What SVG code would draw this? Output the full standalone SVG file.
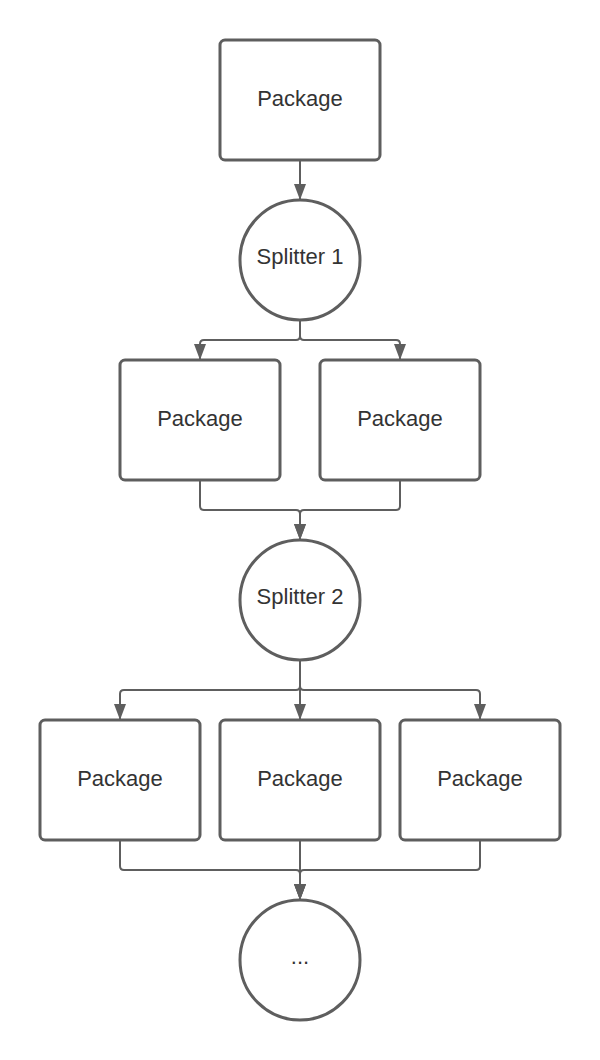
<svg xmlns="http://www.w3.org/2000/svg" width="600" height="1060" viewBox="0 0 600 1060">
<style>
.n{fill:#fff;stroke:#5e5e5e;stroke-width:3}
.t{font-family:"Liberation Sans",Arial,sans-serif;font-size:22px;fill:#333;text-anchor:middle;dominant-baseline:central}
.c{fill:none;stroke:#5e5e5e;stroke-width:2}
</style>
<defs>
<marker id="b" markerUnits="userSpaceOnUse" viewBox="0 0 16 12" refX="16" refY="6" markerWidth="16" markerHeight="12" orient="auto"><path d="M0 0 L16 6 L0 12 Z" fill="#5e5e5e"/></marker>
</defs>
<g id="connectors">
<path class="c" d="M300 160 V200" marker-end="url(#b)"/>
<path class="c" d="M300 320 V336 Q300 340 296 340 H204 Q200 340 200 344 V360" marker-end="url(#b)"/>
<path class="c" d="M300 320 V336 Q300 340 304 340 H396 Q400 340 400 344 V360" marker-end="url(#b)"/>
<path class="c" d="M200 480 V506 Q200 510 204 510 H296 Q300 510 300 514 V540" marker-end="url(#b)"/>
<path class="c" d="M400 480 V506 Q400 510 396 510 H304 Q300 510 300 514 V540" marker-end="url(#b)"/>
<path class="c" d="M300 660 V686 Q300 690 296 690 H124 Q120 690 120 694 V720" marker-end="url(#b)"/>
<path class="c" d="M300 660 V720" marker-end="url(#b)"/>
<path class="c" d="M300 660 V686 Q300 690 304 690 H476 Q480 690 480 694 V720" marker-end="url(#b)"/>
<path class="c" d="M120 840 V866 Q120 870 124 870 H296 Q300 870 300 874 V900" marker-end="url(#b)"/>
<path class="c" d="M300 840 V900" marker-end="url(#b)"/>
<path class="c" d="M480 840 V866 Q480 870 476 870 H304 Q300 870 300 874 V900" marker-end="url(#b)"/>
</g>
<g id="package-top"><rect class="n" x="220" y="40" width="160" height="120" rx="5"/><text class="t" x="300" y="98">Package</text></g>
<g id="splitter-1"><circle class="n" cx="300" cy="260" r="60"/><text class="t" x="300" y="256">Splitter 1</text></g>
<g id="package-2a"><rect class="n" x="120" y="360" width="160" height="120" rx="5"/><text class="t" x="200" y="418">Package</text></g>
<g id="package-2b"><rect class="n" x="320" y="360" width="160" height="120" rx="5"/><text class="t" x="400" y="418">Package</text></g>
<g id="splitter-2"><circle class="n" cx="300" cy="600" r="60"/><text class="t" x="300" y="596">Splitter 2</text></g>
<g id="package-3a"><rect class="n" x="40" y="720" width="160" height="120" rx="5"/><text class="t" x="120" y="778">Package</text></g>
<g id="package-3b"><rect class="n" x="220" y="720" width="160" height="120" rx="5"/><text class="t" x="300" y="778">Package</text></g>
<g id="package-3c"><rect class="n" x="400" y="720" width="160" height="120" rx="5"/><text class="t" x="480" y="778">Package</text></g>
<g id="next"><circle class="n" cx="300" cy="960" r="60"/><text class="t" x="300" y="956">...</text></g>
</svg>
